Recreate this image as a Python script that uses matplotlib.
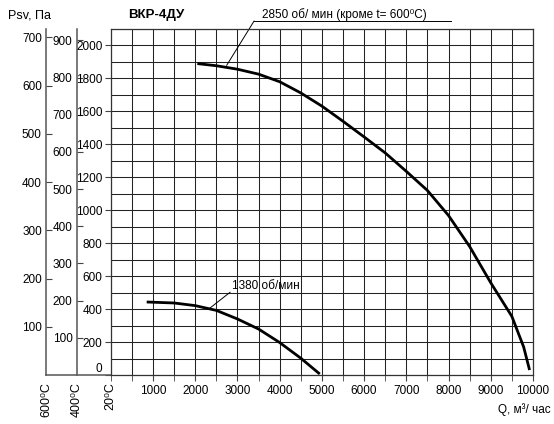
import numpy as np
import matplotlib.pyplot as plt
from matplotlib.ticker import MultipleLocator

plt.rcParams['font.family'] = ['Liberation Sans Narrow', 'Liberation Sans', 'DejaVu Sans']

# кривая 2850 об/мин (Q, м3/час ; Psv, Па при 20 C)
q_2850 = [2050, 2500, 3000, 3500, 4000, 4500, 5000, 5500, 6000, 6500,
          7000, 7500, 8000, 8500, 9000, 9500, 9780, 9920]
p_2850 = [1890, 1877, 1856, 1826, 1780, 1712, 1632, 1540, 1445, 1348,
          1236, 1120, 968, 780, 560, 356, 170, 30]

# кривая 1380 об/мин
q_1380 = [850, 1500, 2000, 2500, 3000, 3500, 4000, 4500, 4950]
p_1380 = [443, 437, 421, 392, 340, 279, 197, 102, 6]

ticks_20 = list(range(0, 2001, 200))
ticks_400 = list(range(100, 901, 100))
ticks_600 = list(range(100, 701, 100))
q_ticks = list(range(1000, 10001, 1000))

k400 = 0.37 / 0.164   # масштаб оси 400 C относительно 20 C
k600 = 0.48 / 0.164   # масштаб оси 600 C

fig = plt.figure(figsize=(5.54, 4.24), dpi=100)
ax = fig.add_axes([0.2, 0.1156, 0.762, 0.816])

ax.plot(q_2850, p_2850, color='k', lw=2.0, solid_capstyle='butt')
ax.plot(q_1380, p_1380, color='k', lw=2.0, solid_capstyle='butt')

ax.set_xlim(0, 10000)
ax.set_ylim(0, 2100)
ax.set_xticks(q_ticks)
ax.xaxis.set_minor_locator(MultipleLocator(500))
ax.set_yticks(ticks_20)
ax.yaxis.set_minor_locator(MultipleLocator(100))
ax.grid(which='both', color='#222222', lw=0.75)
ax.set_axisbelow(True)
ax.tick_params(axis='x', which='both', direction='out', length=4, pad=3,
               labelsize=8.5, color='#444444')
ax.tick_params(axis='y', which='major', direction='out', length=4, pad=2,
               labelsize=8.5, color='#444444')
ax.tick_params(axis='y', which='minor', length=0)
for s in ax.spines.values():
    s.set_color('#333333')
    s.set_linewidth(0.9)
ax.get_yticklabels()[0].set_va('bottom')

# оси для 400 C и 600 C
sec400 = ax.secondary_yaxis(-0.0808, functions=(lambda m: m / k400, lambda v: v * k400))
sec600 = ax.secondary_yaxis(-0.1535, functions=(lambda m: m / k600, lambda v: v * k600))
for sec, tk in ((sec400, ticks_400), (sec600, ticks_600)):
    sec.set_yticks(tk)
    sec.tick_params(direction='in', length=4, pad=3, labelsize=8.5, color='#444444')
    sec.spines['left'].set_color('#555555')
    sec.spines['left'].set_linewidth(1.1)

ax.plot([-0.1535, 0], [0, 0], transform=ax.transAxes, clip_on=False,
        color='#555555', lw=1.1)

for xpos, lab in ((-0.1535, '600⁰C'), (-0.0808, '400⁰C'), (0.0, '20⁰C')):
    ax.text(xpos, -0.022, lab, rotation=90, ha='center', va='top',
            fontsize=9, transform=ax.transAxes)

# подписи кривых
fam = ['Liberation Sans', 'DejaVu Sans']
ax.text(3580, 2165, '2850 об/ мин (кроме t= 600⁰C)', ha='left', va='baseline',
        clip_on=False, family=fam, fontsize=8.5)
ax.plot([3393, 8062], [2148, 2148], color='k', lw=0.7, clip_on=False)
ax.plot([3393, 2746], [2148, 1880], color='k', lw=0.7, clip_on=False)

ax.text(2870, 524, '1380 об/мин', ha='left', va='baseline', family=fam, fontsize=8.5)
ax.plot([2825, 2353], [502, 407], color='k', lw=0.7)

fig.text(8 / 554, 1 - 15 / 424, 'Psv, Па', va='center', fontsize=9, family=fam)
fig.text(128 / 554, 1 - 15 / 424, 'ВКР-4ДУ', va='center', fontsize=9.5,
         weight='bold', family=fam)
fig.text(551 / 554, 14 / 424, 'Q, м³/ час', ha='right', va='center',
         fontsize=8.5, family=fam)

fig.savefig('out.png', dpi=100)
